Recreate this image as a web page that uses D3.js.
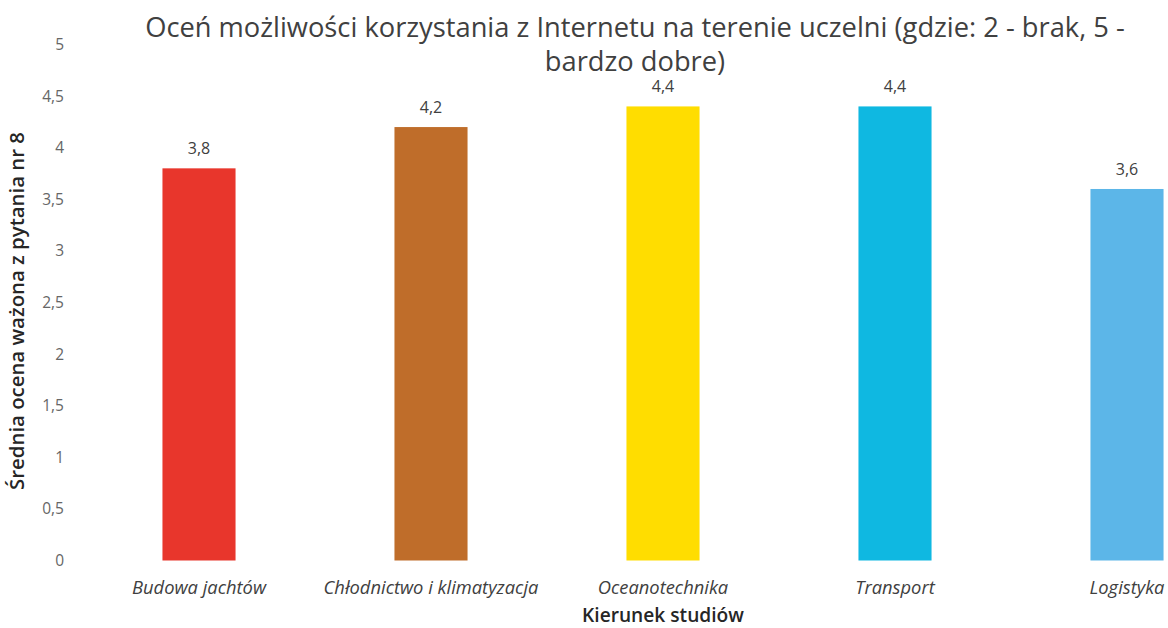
<!DOCTYPE html>
<html><head><meta charset="utf-8">
<script src="https://cdn.jsdelivr.net/npm/d3@7"></script>
<style>html,body{margin:0;padding:0;background:#fff;}svg{display:block;}</style>
</head><body><svg id="c" width="1168" height="628"></svg>
<script>
const categories = ["Budowa jachtów","Chłodnictwo i klimatyzacja","Oceanotechnika","Transport","Logistyka"];
const values = [3.8, 4.2, 4.4, 4.4, 3.6];
const valueLabels = ["3,8","4,2","4,4","4,4","3,6"];
const colors = ["#e8362c","#bf6d2a","#ffdd00","#0fb8e1","#5cb6e8"];
const yTicks = [0,0.5,1,1.5,2,2.5,3,3.5,4,4.5,5];
const titleLines = ["Oceń możliwości korzystania z Internetu na terenie uczelni (gdzie: 2 - brak, 5 -","bardzo dobre)"];
const xTitle = "Kierunek studiów";
const yTitle = "Średnia ocena ważona z pytania nr 8";

const svg = d3.select("#c");
const font = "'Open Sans', Lato, sans-serif";
const x = d3.scaleBand().domain(categories).range([83,1243]).paddingInner(0.685).paddingOuter(0.3425);
const y = d3.scaleLinear().domain([0,5]).range([560.5,44.5]);

// scale a selection's font so its widest text matches a target width
function fit(sel, target, base) {
  sel.attr("font-size", base);
  let w = 0;
  sel.each(function(){ w = Math.max(w, this.getComputedTextLength()); });
  if (w > 0) sel.attr("font-size", base * target / w);
}

// y axis labels
const yAxis = d3.axisLeft(y).tickValues(yTicks).tickSize(0).tickPadding(0)
  .tickFormat(d => String(d).replace(".",","));
const ga = svg.append("g").attr("transform","translate(64,0)").call(yAxis);
ga.select(".domain").remove();
ga.selectAll("text").attr("font-family",font).attr("font-size",15.5).attr("fill","#666666");

// bars
svg.append("g").selectAll("rect").data(categories).join("rect")
  .attr("x",d=>x(d)).attr("width",x.bandwidth())
  .attr("y",(d,i)=>y(values[i])).attr("height",(d,i)=>y(0)-y(values[i]))
  .attr("fill",(d,i)=>colors[i]);

// value labels
svg.append("g").selectAll("text").data(categories).join("text")
  .attr("x",d=>x(d)+x.bandwidth()/2).attr("y",(d,i)=>y(values[i])-14)
  .attr("text-anchor","middle").attr("font-family",font).attr("font-size",16).attr("fill","#404040")
  .text((d,i)=>valueLabels[i]);

// x labels
const xl = svg.append("g").selectAll("text").data(categories).join("text")
  .attr("x",d=>x(d)+x.bandwidth()/2).attr("y",594)
  .attr("text-anchor","middle").attr("font-family",font)
  .attr("font-style","italic").attr("fill","#404040").text(d=>d);
fit(xl, 215, 16);

// title
const tl = svg.append("g").selectAll("text").data(titleLines).join("text")
  .attr("x",635).attr("y",(d,i)=>37+i*34).attr("text-anchor","middle")
  .attr("font-family",font).attr("fill","#404040").text(d=>d);
fit(tl, 980, 24);

// axis titles
const xt = svg.append("text").attr("x",663).attr("y",622).attr("text-anchor","middle")
  .attr("font-family",font).attr("font-weight",600).attr("fill","#262626").text(xTitle);
fit(xt, 162, 17);
const yt = svg.append("text").attr("transform","translate(24,311) rotate(-90)").attr("text-anchor","middle")
  .attr("font-family",font).attr("font-weight",600).attr("fill","#262626").text(yTitle);
fit(yt, 358, 17);
</script></body></html>
